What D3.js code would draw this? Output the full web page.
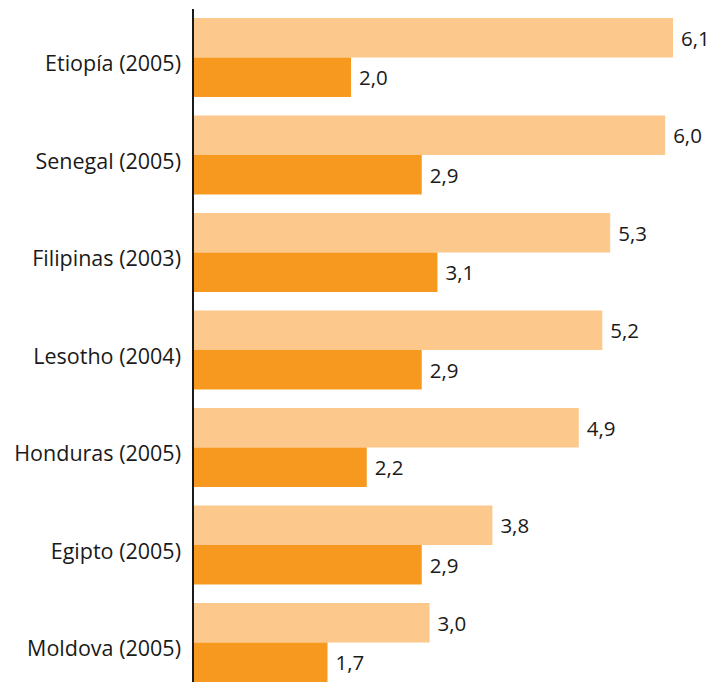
<!DOCTYPE html>
<html><head><meta charset="utf-8">
<script src="https://cdn.jsdelivr.net/npm/d3@7"></script>
<style>body{margin:0;background:#fff;} text{font-family:"Open Sans",sans-serif;fill:#1a1a1a;font-weight:400;}</style>
</head><body>
<svg id="c" width="725" height="682"></svg>
<script>
const categories = ["Etiopía (2005)","Senegal (2005)","Filipinas (2003)","Lesotho (2004)","Honduras (2005)","Egipto (2005)","Moldova (2005)"];
const seriesNames = ["a","b"];
const seriesA = [6.1,6.0,5.3,5.2,4.9,3.8,3.0];
const seriesB = [2.0,2.9,3.1,2.9,2.2,2.9,1.7];
const colors = ["#FDC88C","#F7991F"];

const svg = d3.select("#c");
const x = d3.scaleLinear().domain([0,6.1]).range([194,673]);
const pi = 0.19, step = 97.5;
const y = d3.scaleBand().domain(categories).range([18, 18 + step*(categories.length - pi)]).paddingInner(pi).paddingOuter(0);
const ys = d3.scaleBand().domain(seriesNames).range([0, y.bandwidth()]);
const fmt = v => d3.format(".1f")(v).replace(".", ",");

const data = categories.map((c,i)=>({c, vals:[seriesA[i], seriesB[i]]}));
const g = svg.selectAll("g.grp").data(data).join("g").attr("class","grp")
  .attr("transform", d=>`translate(0,${y(d.c)})`);
g.selectAll("rect").data(d=>d.vals.map((v,k)=>({v,k}))).join("rect")
  .attr("x", x(0)).attr("y", d=>ys(seriesNames[d.k]))
  .attr("width", d=>x(d.v)-x(0)).attr("height", ys.bandwidth())
  .attr("fill", d=>colors[d.k]);
g.selectAll("text.val").data(d=>d.vals.map((v,k)=>({v,k}))).join("text").attr("class","val")
  .attr("x", d=>x(d.v)+8).attr("y", d=>ys(seriesNames[d.k]) + ys.bandwidth()/2)
  .attr("dy","0.38em").attr("font-size",20.5).text(d=>fmt(d.v));

// category labels
svg.selectAll("text.cat").data(categories).join("text").attr("class","cat")
  .attr("x", 181).attr("y", d=>y(d)+y.bandwidth()/2 + 14)
  .attr("text-anchor","end").attr("font-size",21.5).text(d=>d);

// axis line
svg.append("line").attr("x1",193).attr("x2",193).attr("y1",9).attr("y2",682)
  .attr("stroke","#1a1a1a").attr("stroke-width",2);
</script>
</body></html>
